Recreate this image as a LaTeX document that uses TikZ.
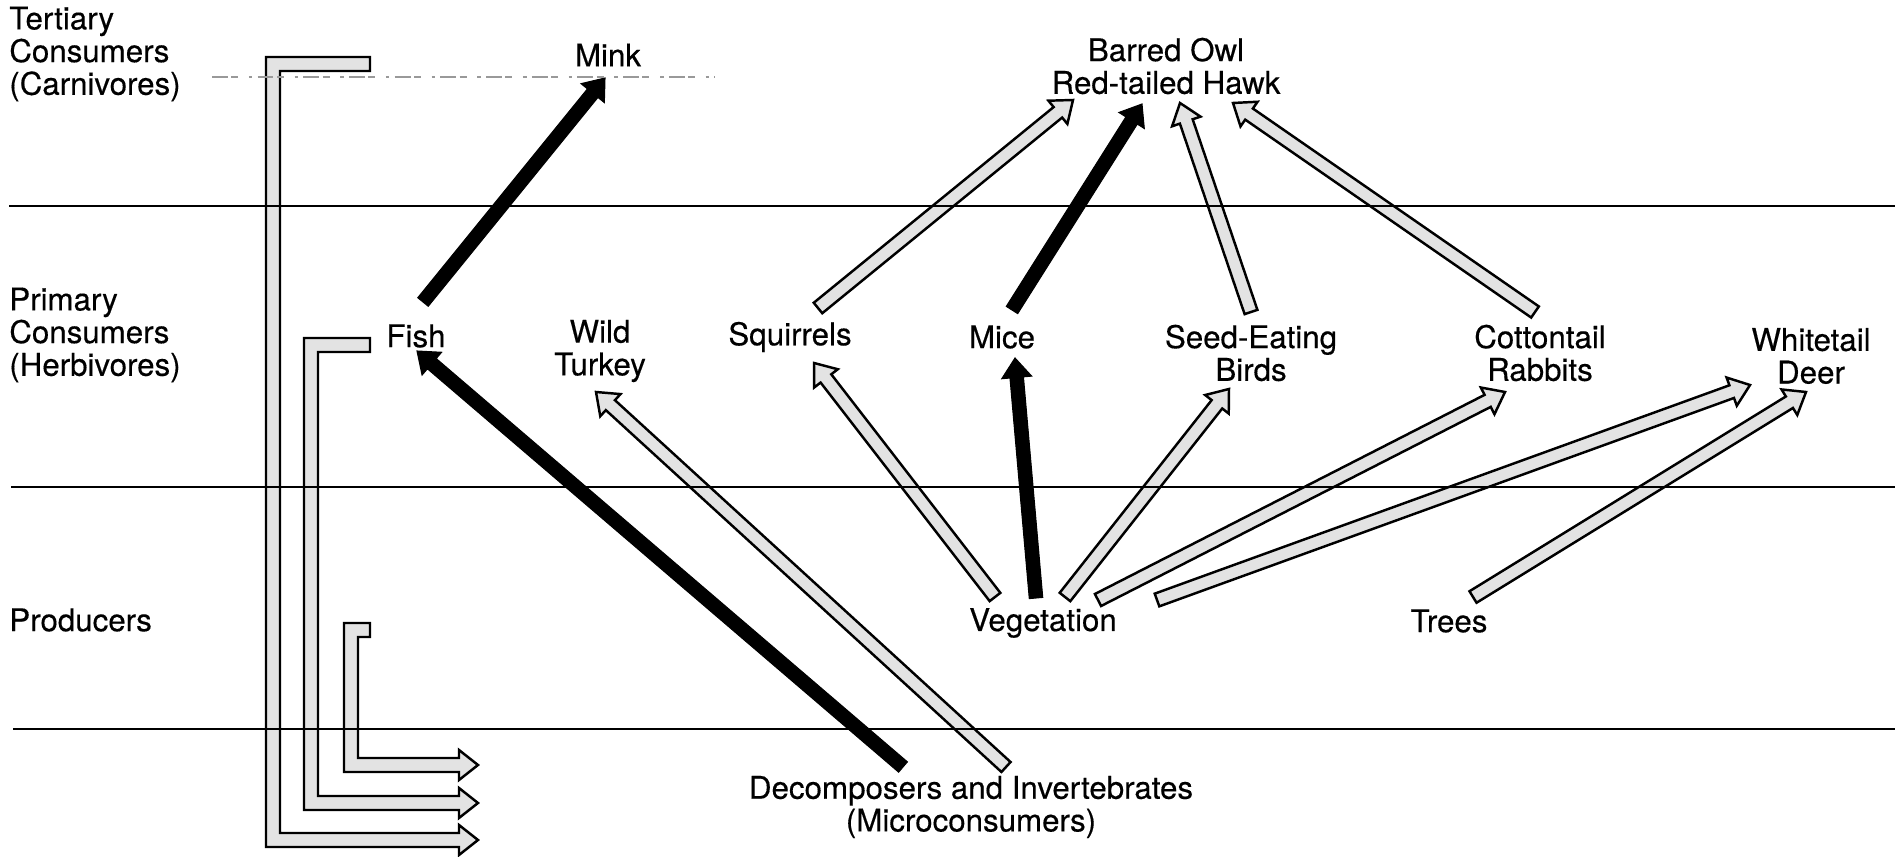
\documentclass[tikz,border=0pt]{standalone}
\usepackage{fontspec}
\setmainfont{TeX Gyre Heros}[FakeBold=1.5]
\newfontfamily\labelfont{TeX Gyre Heros}[FakeBold=0.35]
\usetikzlibrary{calc}

\newcommand\fwShaft{0.135cm}
\newcommand\fwHead{0.30cm}
\newcommand\fwLen{0.39cm}

% fat arrow from tail #2 to head #3
\newcommand\foodarrow[3][hollowarrow]{%
  \coordinate (ft) at #2;
  \coordinate (fh) at #3;
  \coordinate (fb) at ($(fh)!\fwLen!(ft)$);
  \filldraw[#1] ($(ft)!\fwShaft!90:(fh)$) -- ($(fb)!\fwShaft!90:(fh)$)
    -- ($(fb)!\fwHead!90:(fh)$) -- (fh) -- ($(fb)!\fwHead!-90:(fh)$)
    -- ($(fb)!\fwShaft!-90:(fh)$) -- ($(ft)!\fwShaft!-90:(fh)$) -- cycle;
}

\begin{document}
\begin{tikzpicture}
  [x=0.02cm, y=-0.02cm,
   every node/.style={font=\labelfont\fontsize{17.8}{18.6}\selectfont, align=center, inner sep=0pt},
   hollowarrow/.style={draw=black, fill=black!11, line width=1.4pt, line join=miter},
   blackarrow/.style={draw=black, fill=black, line width=0.6pt, line join=miter},
   divider/.style={line width=1.2pt},
   faintline/.style={black!40, line width=0.6pt, dash pattern=on 9pt off 2pt on 4pt off 6pt on 2pt off 3pt}]
  \useasboundingbox (0,0) rectangle (1895,857);

  % levels
  \node[anchor=west, align=left] (tert) at (9,54) {Tertiary\\Consumers\\(Carnivores)};
  \node[anchor=west, align=left] (prim) at (9,335) {Primary\\Consumers\\(Herbivores)};
  \node[anchor=west, align=left] (prod) at (9,620) {Producers};

  % organisms
  \node (mink) at (608,55) {Mink};
  \node (owl) at (1166,66) {Barred Owl\\Red-tailed Hawk};
  \node (fish) at (416,336) {Fish};
  \node (turkey) at (600,351) {Wild\\Turkey};
  \node (squirrel) at (790,337) {Squirrels};
  \node (mice) at (1002,337) {Mice};
  \node (seedbird) at (1251,353) {Seed-Eating\\Birds};
  \node (rabbit) at (1540,353) {Cottontail\\Rabbits};
  \node (deer) at (1811,356) {Whitetail\\Deer};
  \node (veg) at (1043,623) {Vegetation};
  \node (trees) at (1449,621) {Trees};
  \node (decomp) at (971,807) {Decomposers and Invertebrates\\(Microconsumers)};

  % flows to the decomposers
  \filldraw[hollowarrow] (370,57) -- (266,57) -- (266,847) -- (459,847) -- (459,855) -- (478,840)
    -- (459,825) -- (459,833) -- (280,833) -- (280,71) -- (370,71) -- cycle;
  \filldraw[hollowarrow] (370,338) -- (304,338) -- (304,810) -- (459,810) -- (459,818) -- (478,803)
    -- (459,788) -- (459,796) -- (318,796) -- (318,352) -- (370,352) -- cycle;
  \filldraw[hollowarrow] (370,623) -- (344,623) -- (344,772) -- (459,772) -- (459,780) -- (478,765)
    -- (459,750) -- (459,758) -- (358,758) -- (358,637) -- (370,637) -- cycle;

  % who eats whom
  \foodarrow[blackarrow]{($(fish)+(7,-34)$)}{($(mink)+(-3,23)$)}
  \foodarrow[blackarrow]{($(decomp)+(-68,-40)$)}{($(fish)+(1,15)$)}
  \foodarrow{($(decomp)+(35,-40)$)}{($(turkey)+(-4,41)$)}
  \foodarrow{($(squirrel)+(28,-29)$)}{($(owl)+(-93,34)$)}
  \foodarrow[blackarrow]{($(mice)+(10,-27)$)}{($(owl)+(-24,38)$)}
  \foodarrow{($(seedbird)+(0,-41)$)}{($(owl)+(14,37)$)}
  \foodarrow{($(rabbit)+(-5,-41)$)}{($(owl)+(67,37)$)}
  \foodarrow{($(veg)+(-48,-26)$)}{($(squirrel)+(24,26)$)}
  \foodarrow[blackarrow]{($(veg)+(-7,-25)$)}{($(mice)+(13,21)$)}
  \foodarrow{($(veg)+(22,-26)$)}{($(seedbird)+(-22,36)$)}
  \foodarrow{($(veg)+(55,-23)$)}{($(rabbit)+(-35,39)$)}
  \foodarrow{($(veg)+(114,-23)$)}{($(deer)+(-61,29)$)}
  \foodarrow{($(trees)+(24,-24)$)}{($(deer)+(-5,36)$)}

  \draw[divider] (9,206) -- (1895,206);
  \draw[divider] (11,487) -- (1895,487);
  \draw[divider] (13,729) -- (1895,729);
  \draw[faintline] (212,77) -- (715,77);
\end{tikzpicture}
\end{document}
